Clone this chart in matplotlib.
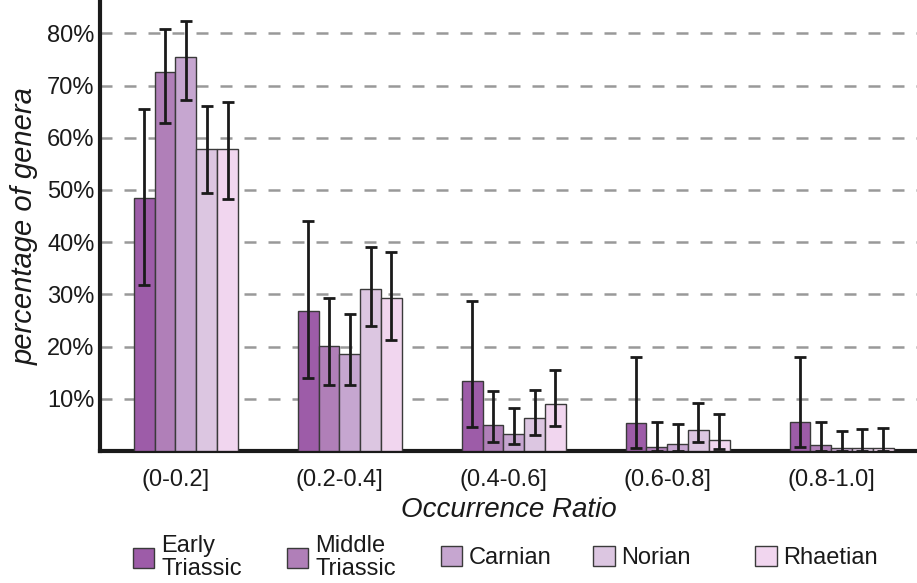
import matplotlib
matplotlib.use("Agg")
import matplotlib.pyplot as plt
from matplotlib.patches import Patch
import numpy as np

plt.rcParams['font.family'] = ['Liberation Sans', 'DejaVu Sans']

categories = ["(0-0.2]", "(0.2-0.4]", "(0.4-0.6]", "(0.6-0.8]", "(0.8-1.0]"]
series_names = ["Early\nTriassic", "Middle\nTriassic", "Carnian", "Norian", "Rhaetian"]

early_triassic = [48.5, 26.9, 13.4, 5.3, 5.5]
middle_triassic = [72.5, 20.1, 5.0, 0.8, 1.1]
carnian = [75.4, 18.6, 3.3, 1.3, 0.6]
norian = [57.9, 31.0, 6.4, 4.1, 0.6]
rhaetian = [57.9, 29.3, 9.0, 2.2, 0.6]

early_lo = [31.8, 13.9, 4.6, 0.6, 0.8]
early_hi = [65.5, 44.0, 28.8, 18.1, 18.1]
middle_lo = [62.8, 12.7, 1.7, 0.0, 0.0]
middle_hi = [80.9, 29.3, 11.5, 5.5, 5.5]
carnian_lo = [67.3, 12.7, 1.3, 0.0, 0.0]
carnian_hi = [82.4, 26.3, 8.3, 5.1, 3.9]
norian_lo = [49.4, 23.9, 3.1, 1.7, 0.0]
norian_hi = [66.0, 39.1, 11.6, 9.1, 4.2]
rhaetian_lo = [48.3, 21.2, 4.8, 0.4, 0.0]
rhaetian_hi = [66.8, 38.1, 15.6, 7.1, 4.4]

yticks = [10, 20, 30, 40, 50, 60, 70, 80]
ytick_labels = ["10%", "20%", "30%", "40%", "50%", "60%", "70%", "80%"]

values = [early_triassic, middle_triassic, carnian, norian, rhaetian]
lows = [early_lo, middle_lo, carnian_lo, norian_lo, rhaetian_lo]
highs = [early_hi, middle_hi, carnian_hi, norian_hi, rhaetian_hi]
colors = ["#9d5ca8", "#b07fb8", "#c6a6d0", "#dcc6e1", "#f1d6ef"]

fig = plt.figure(figsize=(9.17, 5.83), dpi=100)
ax = fig.add_axes([100/917, 1-451/583, 1-100/917, 449/583])

x = np.arange(len(categories))
w = 0.127
for i, (vals, lo, hi, c) in enumerate(zip(values, lows, highs, colors)):
    pos = x + (i - 2) * w
    vals = np.array(vals)
    yerr = np.vstack([vals - np.array(lo), np.array(hi) - vals])
    ax.bar(pos, vals, width=w, color=c, edgecolor="#3a3a3a", linewidth=1.0, zorder=3)
    ax.errorbar(pos, vals, yerr=yerr, fmt="none", ecolor="#1a1a1a", elinewidth=2.0,
                capsize=4.5, capthick=2.0, zorder=4)

ax.set_xlim(-0.524, 4.46)
ax.set_ylim(0, 86)
ax.set_yticks(yticks)
ax.set_yticklabels(ytick_labels)
ax.set_xticks(x - 0.065)
ax.set_xticklabels(categories)
ax.tick_params(axis='both', length=0, labelsize=17, colors="#1a1a1a")
ax.tick_params(axis='y', pad=4)
ax.tick_params(axis='x', pad=13)
ax.yaxis.grid(True, color="#999999", linewidth=1.8, linestyle=(0, (4.8, 4.8)), zorder=0)
ax.set_axisbelow(True)

for s in ["top", "right"]:
    ax.spines[s].set_visible(False)
ax.spines["left"].set_linewidth(3)
ax.spines["bottom"].set_linewidth(3)
ax.spines["left"].set_color("#1a1a1a")
ax.spines["bottom"].set_color("#1a1a1a")

ax.set_ylabel("percentage of genera", fontsize=21, style="italic", color="#1a1a1a", labelpad=6)
ax.set_xlabel("Occurrence Ratio", fontsize=20, style="italic", color="#1a1a1a", labelpad=4)

legend_x = [132.5, 286.5, 440.5, 593, 755]
for name, c, lx in zip(series_names, colors, legend_x):
    h = Patch(facecolor=c, edgecolor="#3a3a3a", linewidth=1.0)
    leg = fig.legend(handles=[h], labels=[name], loc="center left",
                     bbox_to_anchor=(lx/917, 1-557.5/583), frameon=False, fontsize=17,
                     handlelength=0.93, handleheight=0.93, handletextpad=0.28,
                     borderpad=0, borderaxespad=0)
    for t in leg.get_texts():
        t.set_linespacing(1.1)
        t.set_color("#1a1a1a")

fig.savefig("out.png", dpi=100)
